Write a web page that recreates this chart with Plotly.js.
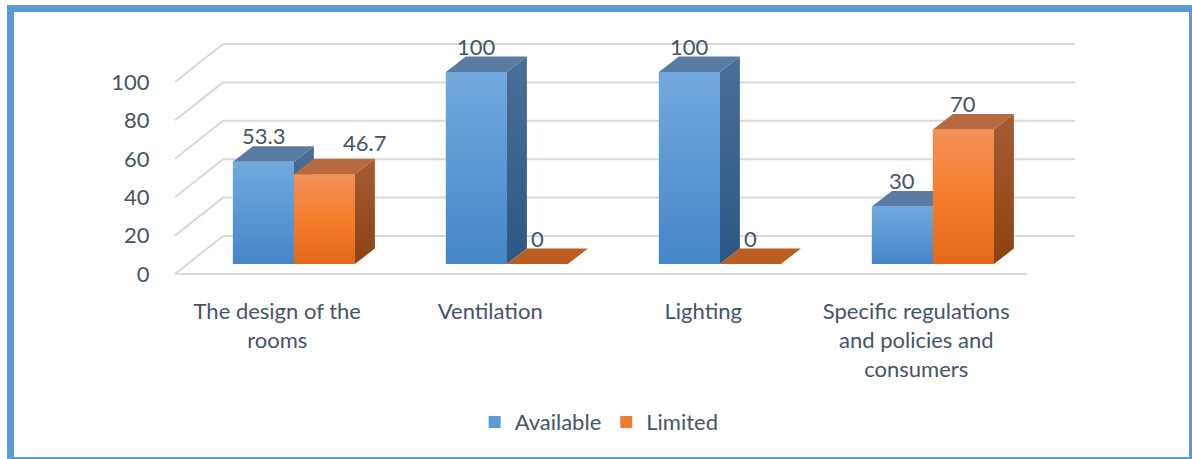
<!DOCTYPE html>
<html>
<head>
<meta charset="utf-8">
<script src="https://cdn.plot.ly/plotly-3.0.1.min.js"></script>
<style>
  html, body { margin: 0; padding: 0; background: #ffffff; overflow: hidden; }
  #wrap { position: relative; width: 1192px; height: 459px; }
  #chart { position: absolute; left: 0; top: 0; width: 1192px; height: 459px; }
  #frame { position: absolute; left: 7px; top: 5px; width: 1189px; height: 459px; box-sizing: border-box;
           border: 7px solid #5b9bd5; pointer-events: none; }
</style>
</head>
<body>
<div id="wrap"><div id="chart"></div><div id="frame"></div></div>
<script>
// ---- data ----
const categories = ["The design of the rooms", "Ventilation", "Lighting", "Specific regulations and policies and consumers"];
const tickLabels = ["The design of the<br>rooms", "Ventilation", "Lighting", "Specific regulations<br>and policies and<br>consumers"];
const seriesNames = ["Available", "Limited"];
const available = [53.3, 100, 100, 30];
const limited = [46.7, 0, 0, 70];
const yTicks = [0, 20, 40, 60, 80, 100];

// ---- styling / geometry (pixels -> axis units) ----
const PX_PER_X = 213, PX_PER_Y = 1.92;
const ux = p => p / PX_PER_X, uy = p => p / PX_PER_Y;
const barShift = { dx: ux(12.4), dy: uy(10) };   // bar plane relative to front plane
const depth = { dx: ux(20), dy: uy(15.5) };       // bar depth
const wall = { dx: ux(48), dy: uy(38) };          // back wall offset
const barW = ux(61);
const textColor = "#44546A";
const FONT = "Lato, 'Open Sans', sans-serif";

const styles = {
  Available: { legend: "#5b9bd5", front: [[0, "#4586c8"], [1, "#72a9de"]], top: "#5a7ca3",
               side: [[0, "#2c5785"], [1, "#4a6f98"]], flat: "#5a7ca3" },
  Limited:   { legend: "#ed7d31", front: [[0, "#e1691b"], [0.5, "#f57d2a"], [1, "#f29159"]], top: "#b9693f",
               side: [[0, "#8a4312"], [1, "#a65c34"]], flat: "#bb5c20" }
};

const seriesData = { Available: available, Limited: limited };
const traces = [];

// gridlines: back wall + left diagonals + front floor line
const gx = [], gy = [];
yTicks.forEach(t => {
  gx.push(-0.5 + wall.dx, categories.length - 0.5 + wall.dx, null);
  gy.push(t + wall.dy, t + wall.dy, null);
  gx.push(-0.5, -0.5 + wall.dx, null);
  gy.push(t, t + wall.dy, null);
});
gx.push(-0.5, categories.length - 0.5, null);
gy.push(0, 0, null);
traces.push({ type: "scatter", mode: "lines", x: gx, y: gy, line: { color: "#d9d9d9", width: 2 },
              hoverinfo: "skip", showlegend: false });

// legend-carrying bar traces (front faces; covered by gradient faces drawn above)
seriesNames.forEach((name, s) => {
  const vals = seriesData[name];
  traces.push({
    type: "bar", name: name,
    x: vals.map((v, i) => i + barShift.dx + (s === 0 ? -barW / 2 : barW / 2)),
    y: vals, base: barShift.dy, width: barW,
    marker: { color: styles[name].legend, line: { width: 0 } },
    hoverinfo: "skip"
  });
});

function poly(xs, ys, fill, grad) {
  const t = { type: "scatter", mode: "lines", x: xs.concat([xs[0]]), y: ys.concat([ys[0]]),
              fill: "toself", line: { width: 0, color: "rgba(0,0,0,0)" }, hoverinfo: "skip", showlegend: false };
  if (grad) {
    t.fillcolor = grad.colorscale[grad.colorscale.length - 1][1];
    t.fillgradient = { type: "vertical", colorscale: grad.colorscale, start: grad.start, stop: grad.stop };
  } else {
    t.fillcolor = fill;
  }
  return t;
}

// 3D faces, drawn series by series so orange sits in front of blue
seriesNames.forEach((name, s) => {
  const vals = seriesData[name];
  const st = styles[name];
  vals.forEach((v, i) => {
    const x0 = i + barShift.dx + (s === 0 ? -barW : 0);
    const x1 = x0 + barW;
    const yb = barShift.dy, yt = barShift.dy + v;
    if (v > 0) {
      traces.push(poly([x1, x1 + depth.dx, x1 + depth.dx, x1], [yb, yb + depth.dy, yt + depth.dy, yt], null,
                       { colorscale: st.side, start: yb, stop: yt + depth.dy }));
      traces.push(poly([x0, x1, x1 + depth.dx, x0 + depth.dx], [yt, yt, yt + depth.dy, yt + depth.dy], st.top));
      traces.push(poly([x0, x1, x1, x0], [yb, yb, yt, yt], null,
                       { colorscale: st.front, start: yb, stop: yt }));
    } else {
      traces.push(poly([x0, x1, x1 + depth.dx, x0 + depth.dx], [yt, yt, yt + depth.dy, yt + depth.dy], st.flat));
    }
  });
});

// value labels
const labelNudge = { Limited: { 0: [40, 6] } };
const annotations = [];
seriesNames.forEach((name, s) => {
  seriesData[name].forEach((v, i) => {
    const nudge = (labelNudge[name] && labelNudge[name][i]) || [0, 0];
    annotations.push({
      x: i + barShift.dx + (s === 0 ? -barW / 2 : barW / 2), y: barShift.dy + v,
      xref: "x", yref: "y", text: String(v), showarrow: false,
      xanchor: "center", yanchor: "middle", xshift: nudge[0], yshift: 26 + nudge[1],
      font: { family: FONT, size: 22, color: textColor }
    });
  });
});

const layout = {
  width: 1192, height: 459,
  margin: { l: 170, r: 112, t: 40, b: 179, pad: 0 },
  paper_bgcolor: "#ffffff", plot_bgcolor: "rgba(0,0,0,0)",
  font: { family: FONT, size: 22, color: textColor },
  barmode: "overlay",
  showlegend: true,
  legend: { orientation: "h", x: 0.4716, xanchor: "center", y: -0.592, yanchor: "middle",
            font: { family: FONT, size: 22, color: textColor }, bgcolor: "rgba(0,0,0,0)" },
  xaxis: {
    range: [-0.5235, categories.length - 0.5 + wall.dx + ux(5)],
    tickmode: "array", tickvals: categories.map((c, i) => i - 0.02), ticktext: tickLabels,
    showgrid: false, zeroline: false, showline: false,
    ticks: "outside", ticklen: 12, tickcolor: "rgba(0,0,0,0)",
    tickfont: { family: FONT, size: 22, color: textColor }, fixedrange: true
  },
  yaxis: {
    range: [-uy(6), uy(234)],
    tickmode: "array", tickvals: yTicks, ticktext: yTicks.map(String),
    showgrid: false, zeroline: false, showline: false,
    ticks: "outside", ticklen: 15, tickcolor: "rgba(0,0,0,0)",
    tickfont: { family: FONT, size: 22, color: textColor }, fixedrange: true
  },
  annotations: annotations
};

Plotly.newPlot("chart", traces, layout, { displayModeBar: false, staticPlot: true });
</script>
</body>
</html>
